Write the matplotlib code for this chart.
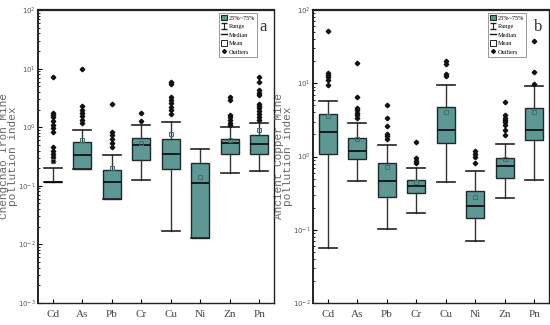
import matplotlib
matplotlib.use("Agg")
import matplotlib.pyplot as plt
from matplotlib.lines import Line2D
from matplotlib.patches import Patch

elements = ["Cd", "As", "Pb", "Cr", "Cu", "Ni", "Zn", "Pn"]

# panel a: Chengchao Iron Mine
a_lo = [0.116, 0.197, 0.060, 0.124, 0.017, 0.013, 0.166, 0.177]
a_q1 = [0.116, 0.197, 0.060, 0.28, 0.197, 0.013, 0.355, 0.355]
a_med = [0.116, 0.33, 0.114, 0.49, 0.345, 0.112, 0.54, 0.51]
a_q3 = [0.116, 0.56, 0.184, 0.665, 0.62, 0.245, 0.62, 0.73]
a_hi = [0.20, 0.91, 0.34, 1.11, 1.22, 0.42, 1.01, 1.2]
a_mean = [0.26, 0.6, 0.2, 0.54, 0.78, 0.14, 0.61, 0.9]
a_out = [
    [7.1, 1.75, 1.6, 1.47, 1.28, 1.08, 0.98, 0.83, 0.46, 0.40, 0.355, 0.31, 0.27],
    [9.7, 2.29, 2.0, 1.75, 1.54, 1.35, 1.19],
    [2.47, 0.83, 0.73, 0.64, 0.53, 0.46],
    [1.75, 1.28],
    [5.95, 5.4, 3.3, 2.9, 2.54, 2.22, 1.95, 1.71],
    [],
    [3.3, 2.9, 1.6, 1.47, 1.32, 1.19, 1.08],
    [7.2, 5.8, 4.3, 3.9, 3.6, 2.5, 2.3, 2.1, 1.9, 1.7, 1.5, 1.35],
]

# panel b: Ancient Copper Mine
b_lo = [0.056, 0.46, 0.103, 0.171, 0.45, 0.071, 0.27, 0.48]
b_q1 = [1.09, 0.93, 0.277, 0.32, 1.52, 0.145, 0.51, 1.66]
b_med = [2.15, 1.18, 0.47, 0.39, 2.32, 0.21, 0.75, 2.32]
b_q3 = [3.76, 1.8, 0.82, 0.48, 4.75, 0.34, 0.96, 4.65]
b_hi = [5.66, 2.86, 1.45, 0.69, 9.6, 0.63, 1.49, 9.1]
b_mean = [3.6, 1.74, 0.73, 0.45, 4.1, 0.28, 0.93, 4.1]
b_out = [
    [51.5, 13.8, 12.9, 12.0, 11.0, 9.4],
    [19.0, 6.4, 4.6, 4.27, 3.9, 3.65, 3.39],
    [5.0, 3.4, 2.57, 2.04, 1.88, 1.75],
    [1.57, 0.96, 0.88, 0.81],
    [20.2, 18.2, 13.5, 12.5],
    [1.18, 1.09, 0.98, 0.81],
    [5.5, 3.65, 3.39, 3.18, 2.95, 2.66, 2.32, 1.94],
    [37.6, 14.3, 9.9],
]

TEAL = "#5e9895"
DARK = "#1e2a2a"


def stats(lo, q1, med, q3, hi, mean, out):
    return [dict(whislo=lo[i], q1=q1[i], med=med[i], q3=q3[i], whishi=hi[i],
                 mean=mean[i], fliers=out[i], label=elements[i])
            for i in range(len(elements))]


def panel(ax, st, ylim, ylabel, tag, leg_x):
    ax.bxp(st, positions=range(1, 9), widths=0.62, patch_artist=True,
           showmeans=True, showfliers=True,
           boxprops=dict(facecolor=TEAL, edgecolor=DARK, lw=1.0),
           medianprops=dict(color="#111111", lw=1.3),
           whiskerprops=dict(color="#333333", lw=1.0),
           capprops=dict(color="#222222", lw=1.2),
           capwidths=0.62,
           meanprops=dict(marker="s", markersize=3.5, markerfacecolor="none",
                          markeredgecolor="#3f6e6b", markeredgewidth=0.7),
           flierprops=dict(marker="D", markersize=2.3, markerfacecolor="#111111",
                           markeredgecolor="#111111", lw=0))
    ax.set_yscale("log")
    ax.set_ylim(*ylim)
    ax.set_xlim(0.5, 8.5)
    ax.set_xticks(range(1, 9))
    ax.set_xticklabels(elements, family="Liberation Serif", fontsize=8,
                       color="#444444")
    ax.tick_params(axis="both", which="both", direction="in")
    ax.tick_params(axis="y", which="major", length=3, labelsize=5,
                   labelcolor="#555555", pad=1.5)
    ax.tick_params(axis="y", which="minor", length=1.5)
    ax.tick_params(axis="x", length=3, pad=5)
    ax.tick_params(right=False, top=False, which="both")
    for s in ax.spines.values():
        s.set_linewidth(1.0)
        s.set_color("#222222")
    ax.spines["top"].set_linewidth(1.6)
    ax.spines["left"].set_linewidth(1.4)
    ax.set_ylabel(ylabel, family="Liberation Mono", fontsize=8,
                  color="#666666", linespacing=0.9, va="center")
    ax.yaxis.set_label_coords(-0.124, 0.5)
    ax.text(0.953, 0.942, tag, transform=ax.transAxes, family="Liberation Serif",
            fontsize=12, color="#333333", ha="center", va="center")

    rng = ax.errorbar([float("nan")], [float("nan")], yerr=[[1], [1]],
                      fmt="none", ecolor="#222222", capsize=2, elinewidth=0.8)
    handles = [
        Patch(facecolor=TEAL, edgecolor=DARK, lw=0.8),
        rng,
        Line2D([], [], color="#111111", lw=1.0),
        Line2D([], [], ls="none", marker="s", markersize=4,
               markerfacecolor="none", markeredgecolor="#222222", markeredgewidth=0.7),
        Line2D([], [], ls="none", marker="D", markersize=2,
               markerfacecolor="#111111", markeredgecolor="#111111"),
    ]
    labels = ["25%~75%", "Range", "Median", "Mean", "Outliers"]
    leg = ax.legend(handles, labels, loc="upper left", bbox_to_anchor=(leg_x, 0.99),
                    handlelength=1.0, handleheight=0.9,
                    handletextpad=0.3, borderpad=0.3, labelspacing=0.45,
                    borderaxespad=0, fancybox=False, framealpha=1,
                    edgecolor="#888888",
                    prop=dict(family="Liberation Serif", size=4.5))
    leg.get_frame().set_linewidth(0.6)


fig = plt.figure(figsize=(5.5, 3.25), dpi=100)
ax1 = fig.add_axes([0.069, 0.0677, 0.429, 0.9015])
ax2 = fig.add_axes([0.569, 0.0677, 0.429, 0.9015])

panel(ax1, stats(a_lo, a_q1, a_med, a_q3, a_hi, a_mean, a_out), (1e-3, 1e2),
      "Chengchao Iron Mine\npollution index", "a", 0.767)
panel(ax2, stats(b_lo, b_q1, b_med, b_q3, b_hi, b_mean, b_out), (1e-2, 1e2),
      "Ancient Copper Mine\npollution index", "b", 0.742)

fig.savefig("out.png", dpi=100)
